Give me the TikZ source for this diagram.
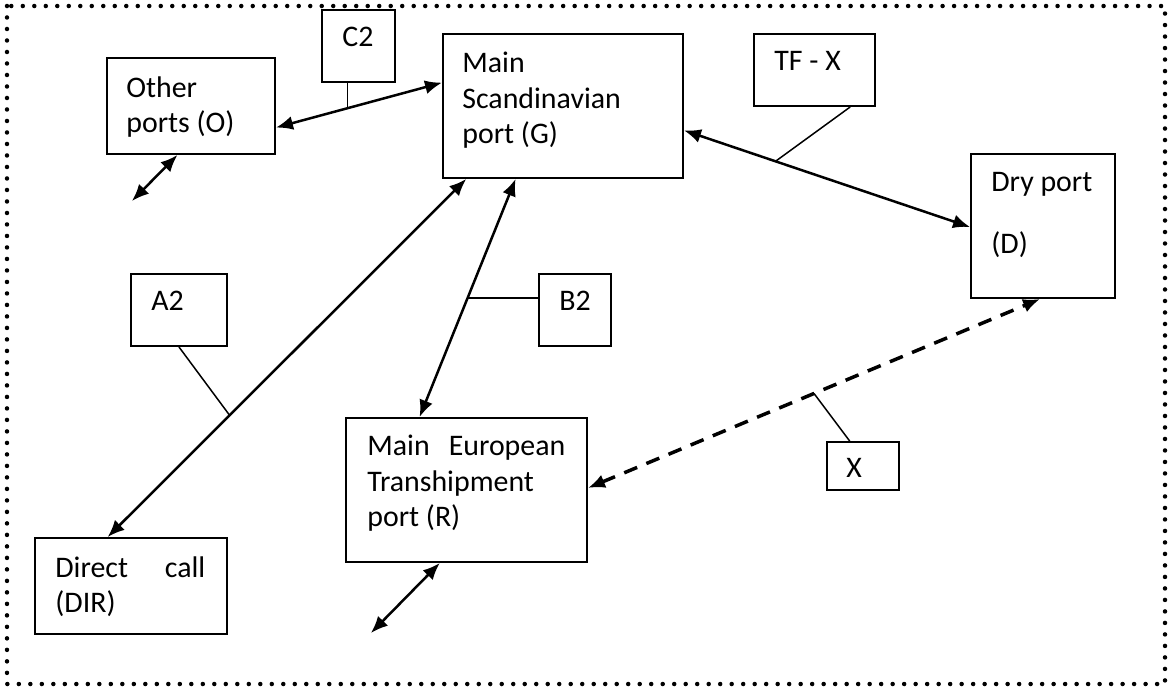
\documentclass[tikz,border=0pt]{standalone}
\usepackage{fontspec}
\setmainfont{Carlito}
\usetikzlibrary{arrows.meta,calc}

\tikzset{
  box/.style={draw, line width=0.04cm, inner sep=0pt},
  txt/.style={anchor=north west, inner sep=0pt, align=left, font=\fontsize{17pt}{20pt}\selectfont},
  link/.style={line width=0.05cm, {Latex[length=0.34cm,width=0.28cm]}-{Latex[length=0.34cm,width=0.28cm]}},
  tick/.style={line width=0.03cm}
}

\begin{document}
\begin{tikzpicture}[x=0.02cm,y=-0.02cm]
\useasboundingbox (0,0) rectangle (1171,690);
% dotted frame
\draw[line width=0.09cm, line cap=round, dash pattern=on 0pt off 0.23cm] (7,6) rectangle (1165,684);

% ports
\node[box, minimum width=3.36cm, minimum height=1.92cm] (o) at (191,106) {};
\node[box, minimum width=4.8cm, minimum height=2.88cm] (g) at (563,106) {};
\node[box, minimum width=2.88cm, minimum height=2.88cm] (d) at (1043,226) {};
\node[box, minimum width=4.82cm, minimum height=2.88cm] (r) at (466.5,490) {};
\node[box, minimum width=3.84cm, minimum height=1.92cm] (dir) at (131,586) {};
% flow labels
\node[box, minimum width=1.46cm, minimum height=1.44cm] (c2) at (358.5,46) {};
\node[box, minimum width=2.42cm, minimum height=1.44cm] (tf) at (814.5,70) {};
\node[box, minimum width=1.92cm, minimum height=1.44cm] (a2) at (179,310) {};
\node[box, minimum width=1.44cm, minimum height=1.44cm] (b2) at (575,310) {};
\node[box, minimum width=1.44cm, minimum height=0.96cm] (xb) at (863,466) {};

% texts
\node[txt] (o-txt) at ([shift={(20,19)}]o.north west) {Other\\ports (O)};
\node[txt] (g-txt) at ([shift={(20,19)}]g.north west) {Main\\Scandinavian\\port (G)};
\node[txt] (d-txt) at ([shift={(21,19)}]d.north west) {Dry port\\[15pt](D)};
\node[txt] (r-txt) at ([shift={(22,18)}]r.north west) {\makebox[3.96cm][s]{Main\hfill European}\\Transhipment\\port (R)};
\node[txt] (dir-txt) at ([shift={(21,19)}]dir.north west) {\makebox[3cm][s]{Direct\hfill call}\\(DIR)};
\node[txt] (c2-txt) at ([shift={(21,18)}]c2.north west) {C2};
\node[txt] (tf-txt) at ([shift={(21,18)}]tf.north west) {TF - X};
\node[txt] (a2-txt) at ([shift={(21,18)}]a2.north west) {A2};
\node[txt] (b2-txt) at ([shift={(21,18)}]b2.north west) {B2};
\node[txt] (xb-txt) at ([shift={(20,17)}]xb.north west) {X};

% free ends
\coordinate (ofree) at (132,201);
\coordinate (rfree) at (371,633);

% links
\draw[link] ($(o.north east)!0.72!(o.south east)$) -- coordinate[pos=0.43] (c2t) ($(g.north west)!0.34!(g.south west)$);
\draw[tick] (c2t) -- (c2t |- c2.south);
\draw[link] ($(o.south west)!0.42!(o.south east)$) -- (ofree);
\draw[link] ($(g.south west)!0.1!(g.south east)$) -- coordinate[pos=0.66] (a2t) ($(dir.north west)!0.38!(dir.north east)$);
\draw[tick] (a2.south) -- (a2t);
\draw[link] ($(g.south west)!0.304!(g.south east)$) -- coordinate[pos=0.5] (b2t) ($(r.north west)!0.307!(r.north east)$);
\draw[tick] (b2t) -- (b2t -| b2.west);
\draw[link] ($(g.north east)!0.667!(g.south east)$) -- coordinate[pos=0.32] (tft) ($(d.north west)!0.507!(d.south west)$);
\draw[tick] ($(tf.south west)!0.79!(tf.south east)$) -- (tft);
\draw[link, line width=0.07cm, dash pattern=on 0.28cm off 0.2cm] ($(r.north east)!0.486!(r.south east)$) -- coordinate[pos=0.5] (xt) ($(d.south west)!0.48!(d.south east)$);
\draw[tick] ($(xb.north west)!0.32!(xb.north east)$) -- (xt);
\draw[link] ($(r.south west)!0.39!(r.south east)$) -- (rfree);
\end{tikzpicture}
\end{document}
